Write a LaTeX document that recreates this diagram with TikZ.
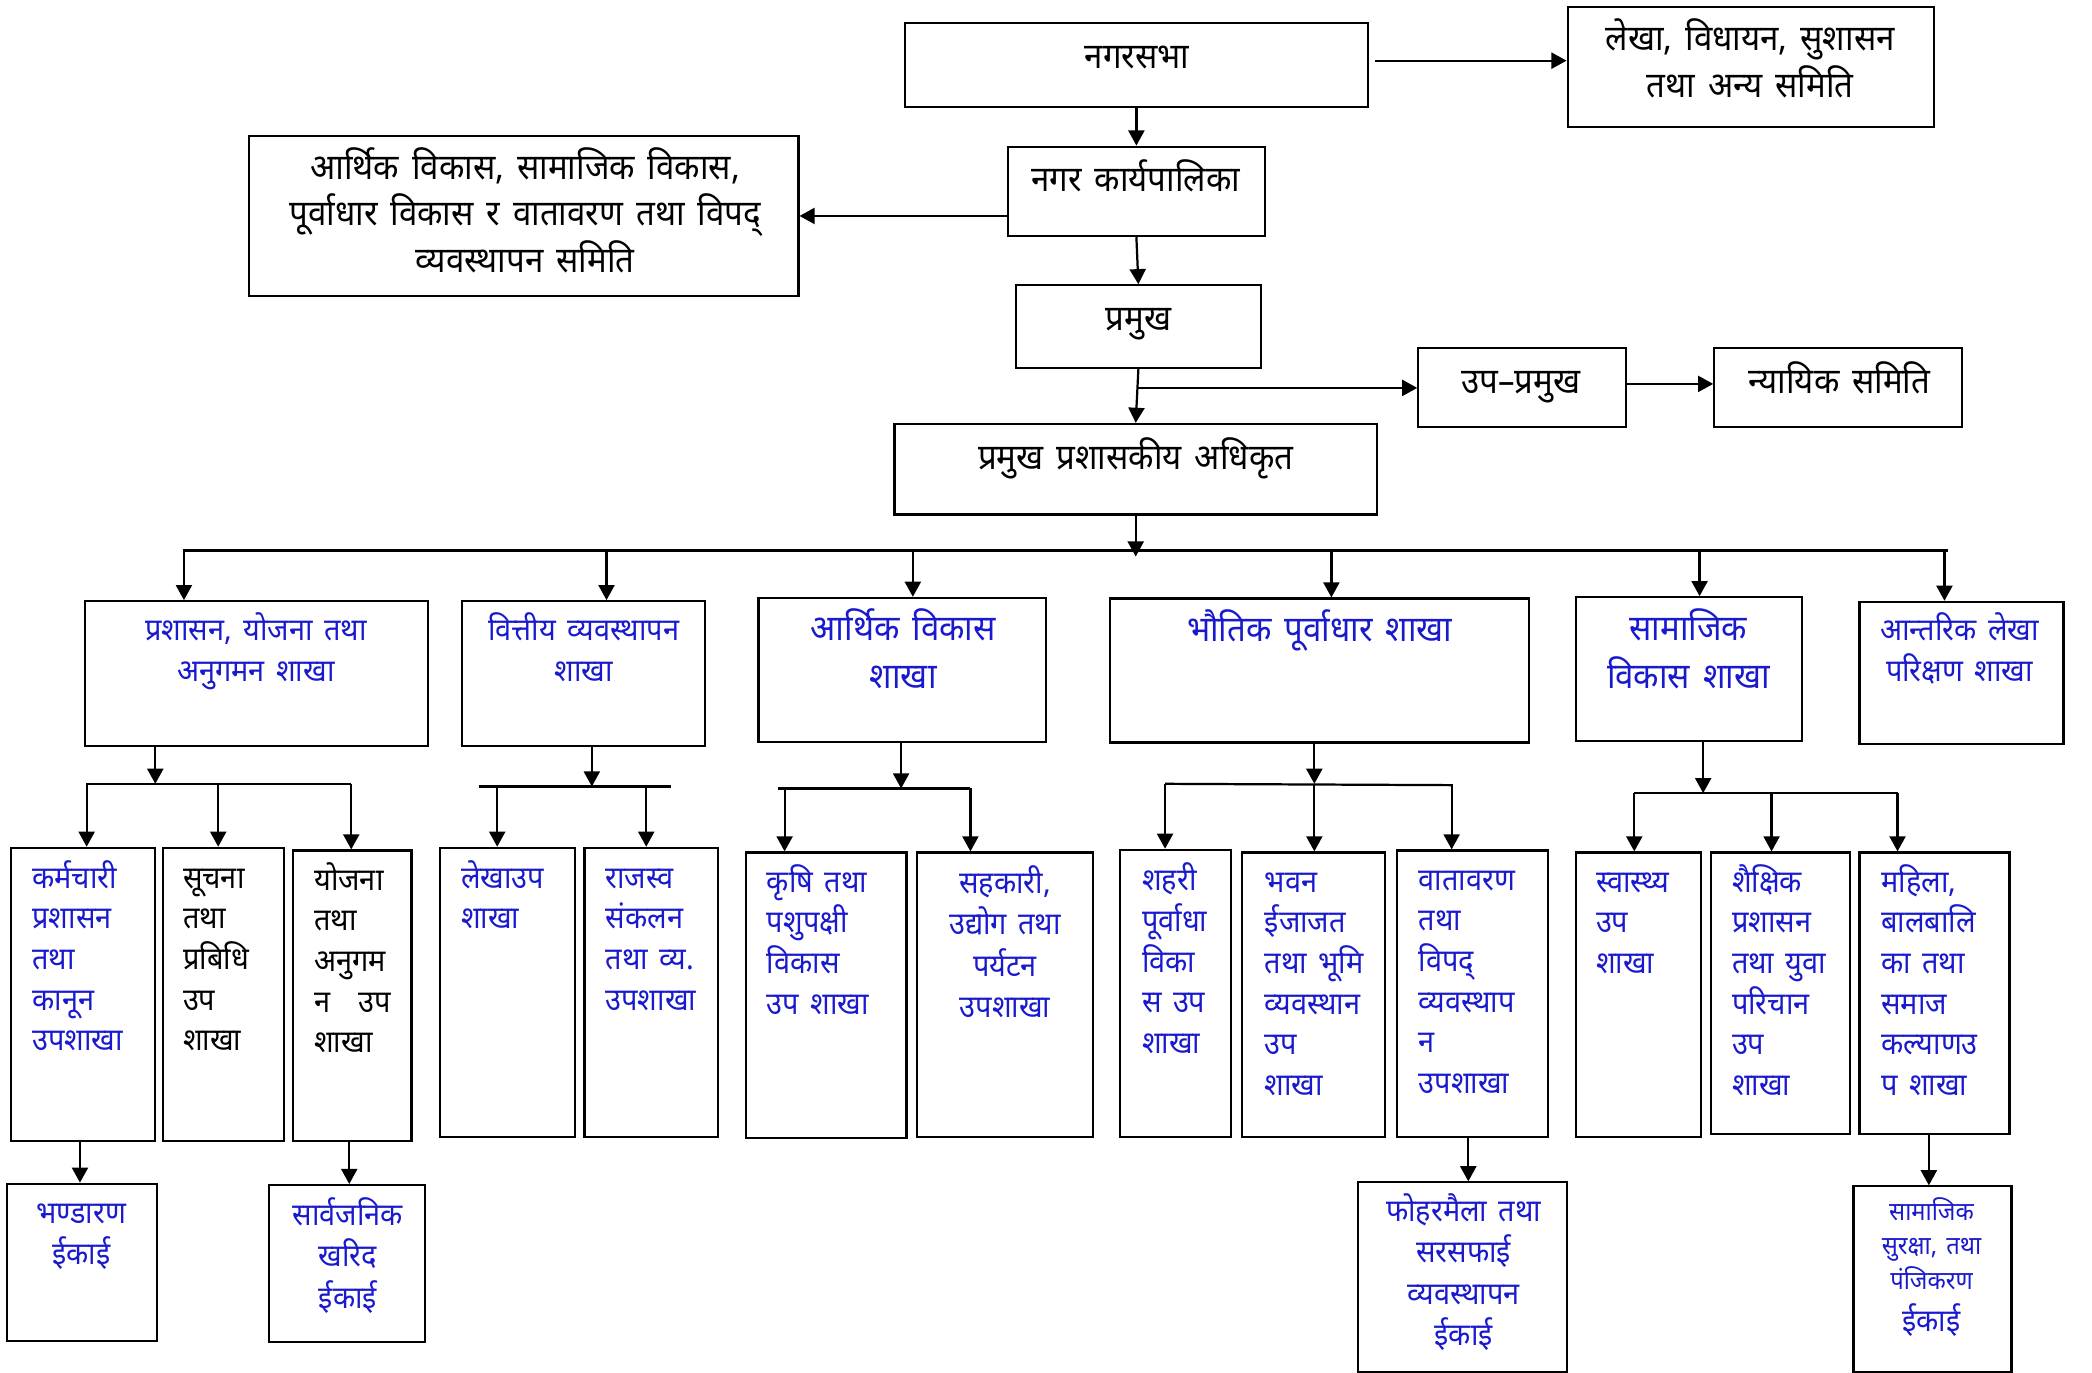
\documentclass[tikz,border=0pt]{standalone}
\usepackage{fontspec}
\newfontfamily\dev[Script=Devanagari,FakeStretch=0.93,WordSpace=1.5]{Noto Sans}
\usetikzlibrary{arrows.meta,fit,calc}
\definecolor{tblue}{RGB}{25,25,205}
\newcommand{\tstrut}{\rule{0pt}{1em}}
\begin{document}
\lineskiplimit=-20pt
\begin{tikzpicture}[x=0.6pt,y=-0.6pt,
  box/.style={draw,line width=0.95pt,inner sep=0pt},
  arr/.style={line width=1pt,-{Triangle[length=6.8pt,width=7.2pt]}},
  ln/.style={line width=1pt},
  ttop/.style={inner sep=0pt,anchor=north,align=center,font=\dev\fontsize{16}{21}\selectfont},
  tmid/.style={inner sep=0pt,anchor=north,align=center,text=tblue,font=\dev\fontsize{14}{18.6}\selectfont},
  tbig/.style={inner sep=0pt,anchor=north,align=center,text=tblue,font=\dev\fontsize{16}{21.6}\selectfont},
  tleaf/.style={inner sep=0pt,anchor=north west,align=left,text=tblue,font=\dev\fontsize{14}{18.3}\selectfont},
  tleafc/.style={inner sep=0pt,anchor=north,align=center,text=tblue,font=\dev\fontsize{14}{18.6}\selectfont},
]
\useasboundingbox (0,0) rectangle (1569.4,1030);
% ---------- boxes ----------
\node[box,fit={(679,17) (1026,80)}] (n1) {};
\node[box,fit={(1176,5) (1451,95)}] (n3) {};
\node[box,fit={(756,110) (949,177)}] (n2) {};
\node[box,fit={(187,102) (599,222)}] (n4) {};
\node[box,fit={(762,214) (946,276)}] (n5) {};
\node[box,fit={(1064,261) (1220,320)}] (n6) {};
\node[box,fit={(1286,261) (1472,320)}] (n7) {};
\node[box,fit={(671,318) (1033,386)}] (n8) {};
\node[box,fit={(64,451) (321,559.5)}] (b1) {};
\node[box,fit={(346.5,451) (529,559.5)}] (b2) {};
\node[box,fit={(569,448.5) (785,556.6)}] (b3) {};
\node[box,fit={(833,449) (1147,557)}] (b4) {};
\node[box,fit={(1182,448) (1351.5,556)}] (b5) {};
\node[box,fit={(1395,451.5) (1548,558)}] (b6) {};
\node[box,fit={(8.4,636) (116.5,856)}] (l1) {};
\node[box,fit={(122.5,636) (213,856)}] (l2) {};
\node[box,fit={(220,638) (308.7,856)}] (l3) {};
\node[box,fit={(330,636) (431.5,853)}] (l4) {};
\node[box,fit={(438.5,636) (538.5,853)}] (l5) {};
\node[box,fit={(559.6,639.5) (680,853.7)}] (l6) {};
\node[box,fit={(688,639.5) (820,853)}] (l7) {};
\node[box,fit={(840,637.5) (923.5,853)}] (l8) {};
\node[box,fit={(932,639.5) (1039,853)}] (l9) {};
\node[box,fit={(1048,638) (1161.5,853)}] (l10) {};
\node[box,fit={(1182,639.5) (1276,853)}] (l11) {};
\node[box,fit={(1283.5,639.5) (1388,850.5)}] (l12) {};
\node[box,fit={(1395,639.5) (1507.5,850.5)}] (l13) {};
\node[box,fit={(5.5,888) (117.5,1006)}] (u1) {};
\node[box,fit={(202,889) (319,1006.5)}] (u2) {};
\node[box,fit={(1018.5,887) (1175.5,1029)}] (u3) {};
\node[box,fit={(1390.5,890) (1509,1029)}] (u4) {};
% ---------- texts ----------
\node[ttop] (tn1) at (853,24.3) {\tstrut नगरसभा};
\node[ttop] (tn3) at (1313,10.8) {\tstrut लेखा, विधायन, सुशासन\\तथा अन्य समिति};
\node[ttop] (tn2) at (852,116.3) {\tstrut नगर कार्यपालिका};
\node[ttop] (tn4) at (394,107.3) {\tstrut आर्थिक विकास, सामाजिक विकास,\\पूर्वाधार विकास र वातावरण तथा विपद्\\व्यवस्थापन समिति};
\node[ttop] (tn5) at (854,221.3) {\tstrut प्रमुख};
\node[ttop] (tn6) at (1141,268.3) {\tstrut उप–प्रमुख};
\node[ttop] (tn7) at (1380,268.3) {\tstrut न्यायिक समिति};
\node[ttop] (tn8) at (852,325.3) {\tstrut प्रमुख प्रशासकीय अधिकृत};
\node[tmid] (tb1) at (192,456.7) {\tstrut प्रशासन, योजना तथा\\अनुगमन शाखा};
\node[tmid] (tb2) at (438,456.7) {\tstrut वित्तीय व्यवस्थापन\\शाखा};
\node[tbig] (tb3) at (677.6,453.3) {\tstrut आर्थिक विकास\\शाखा};
\node[tbig] (tb4) at (990,454.3) {\tstrut भौतिक पूर्वाधार शाखा};
\node[tbig] (tb5) at (1266.6,453.3) {\tstrut सामाजिक\\विकास शाखा};
\node[tmid] (tb6) at (1470,456.7) {\tstrut आन्तरिक लेखा\\परिक्षण शाखा};
\node[tleaf] (tl1) at (24,642.7) {\tstrut कर्मचारी\\प्रशासन\\तथा\\कानून\\उपशाखा};
\node[tleaf,text=black] (tl2) at (137,642.7) {\tstrut सूचना\\तथा\\प्रबिधि\\उप\\शाखा};
\node[tleaf,text=black] (tl3) at (235.4,644.2) {\tstrut योजना\\तथा\\अनुगम\\न\hspace{0.9em}उप\\शाखा};
\node[tleaf] (tl4) at (345.5,642.7) {\tstrut लेखाउप\\शाखा};
\node[tleaf] (tl5) at (454,642.7) {\tstrut राजस्व\\संकलन\\तथा व्य.\\उपशाखा};
\node[tleaf] (tl6) at (575,645.7) {\tstrut कृषि तथा\\पशुपक्षी\\विकास\\उप शाखा};
\node[tleafc] (tl7) at (754,646.7) {\tstrut सहकारी,\\उद्योग तथा\\पर्यटन\\उपशाखा};
\node[tleaf] (tl8) at (856.5,644.7) {\tstrut शहरी\\पूर्वाधा\\विका\\स उप\\शाखा};
\node[tleaf] (tl9) at (948.5,645.7) {\tstrut भवन\\ईजाजत\\तथा भूमि\\व्यवस्थान\\उप\\शाखा};
\node[tleaf] (tl10) at (1064,644.2) {\tstrut वातावरण\\तथा\\विपद्\\व्यवस्थाप\\न\\उपशाखा};
\node[tleaf] (tl11) at (1197,645.7) {\tstrut स्वास्थ्य\\उप\\शाखा};
\node[tleaf] (tl12) at (1299,645.7) {\tstrut शैक्षिक\\प्रशासन\\तथा युवा\\परिचान\\उप\\शाखा};
\node[tleaf] (tl13) at (1411,645.7) {\tstrut महिला,\\बालबालि\\का तथा\\समाज\\कल्याणउ\\प शाखा};
\node[tleafc] (tu1) at (61,894.2) {\tstrut भण्डारण\\ईकाई};
\node[tleafc] (tu2) at (261,895.7) {\tstrut सार्वजनिक\\खरिद\\ईकाई};
\node[tleafc] (tu3) at (1098,892.7) {\tstrut फोहरमैला तथा\\सरसफाई\\व्यवस्थापन\\ईकाई};
\node[tleafc,font=\dev\fontsize{11.5}{15.6}\selectfont] (tu4) at (1449,895.8) {\tstrut सामाजिक\\सुरक्षा, तथा\\पंजिकरण\\[3.3pt]{\fontsize{14}{18}\selectfont ईकाई}};
% ---------- connectors ----------
\draw[arr] (n1.south) -- (n2.north);
\draw[arr] ([xshift=3pt,yshift=1.8pt]n1.east) -- ([yshift=1.8pt]n1.east -| n3.west);
\draw[arr] (n2.west |- 0,162) -- (n4.east |- 0,162);
\draw[arr] (n2.south) -- (n5.north);
\draw[arr] (n5.south) -- (n8.north);
\draw[arr] (n5.south |- 0,291) -- (n6.west |- 0,291);
\draw[arr] (n6.east |- 0,288) -- (n7.west |- 0,288);
\coordinate (busL) at (137,413);
\coordinate (busR) at (1461,413);
\draw[ln] (busL) -- (busR);
\draw[arr] (n8.south) -- (n8.south |- 0,417.5);
\foreach \b/\x in {b1/138,b2/455,b3/684.8,b4/998.8,b5/1275,b6/1458.7}
  \draw[arr] (busL -| \x,0) -- (\b.north -| \x,0);
% branch 1
\coordinate (s1L) at (64.6,588); \coordinate (s1R) at (263.5,588);
\draw[arr] (b1.south -| 116.5,0) -- (s1L -| 116.5,0);
\draw[ln] (s1L) -- (s1R);
\foreach \l/\x in {l1/65,l2/163.7,l3/263.5}
  \draw[arr] (s1L -| \x,0) -- (\l.north -| \x,0);
% branch 2
\coordinate (s2L) at (359,590); \coordinate (s2R) at (503,590);
\draw[arr] (b2.south -| 444,0) -- (s2L -| 444,0);
\draw[ln] (s2L) -- (s2R);
\foreach \l/\x in {l4/373,l5/484.8}
  \draw[arr] (s2L -| \x,0) -- (\l.north -| \x,0);
% branch 3
\coordinate (s3L) at (584,591.5); \coordinate (s3R) at (728,591.5);
\draw[arr] (b3.south -| 676,0) -- (s3L -| 676,0);
\draw[ln] (s3L) -- (s3R);
\foreach \l/\x in {l6/588.6,l7/728}
  \draw[arr] (s3L -| \x,0) -- (\l.north -| \x,0);
% branch 4
\coordinate (s4L) at (874,588); \coordinate (s4R) at (1089,589);
\draw[arr] (b4.south -| 986,0) -- (s4L -| 986,0);
\draw[ln] (s4L) -- (s4R);
\foreach \l/\x in {l8/874,l9/986,l10/1089}
  \draw[arr] (s4L -| \x,0) -- (\l.north -| \x,0);
% branch 5
\coordinate (s5L) at (1226,595); \coordinate (s5R) at (1423.5,595);
\draw[arr] (b5.south -| 1277.7,0) -- (s5L -| 1277.7,0);
\draw[ln] (s5L) -- (s5R);
\foreach \l/\x in {l11/1226,l12/1329,l13/1423.5}
  \draw[arr] (s5L -| \x,0) -- (\l.north -| \x,0);
% units
\draw[arr] (l1.south -| 60,0) -- (u1.north -| 60,0);
\draw[arr] (l3.south -| 262,0) -- (u2.north -| 262,0);
\draw[arr] (l10.south -| 1101.5,0) -- (u3.north -| 1101.5,0);
\draw[arr] (l13.south -| 1447,0) -- (u4.north -| 1447,0);
\end{tikzpicture}
\end{document}
